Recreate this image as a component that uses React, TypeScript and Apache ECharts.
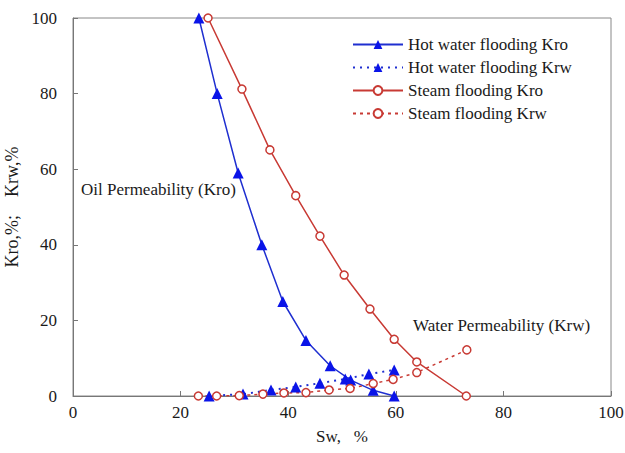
import React, { useEffect, useRef } from "react";
import * as echarts from "echarts";

const hotKroSw = [23.4, 26.8, 30.7, 35.1, 39.0, 43.3, 47.8, 51.6, 55.8, 59.7];
const hotKro = [100, 80, 59, 40, 25, 14.7, 8, 4.2, 1.5, 0];
const hotKrwSw = [25.3, 31.6, 36.8, 41.4, 45.9, 50.6, 55.0, 59.7];
const hotKrw = [0, 0.5, 1.6, 2.4, 3.4, 4.5, 5.8, 6.9];
const steamKroSw = [25.1, 31.4, 36.6, 41.4, 45.9, 50.4, 55.2, 59.7, 63.9, 73.1];
const steamKro = [100, 81.2, 65.1, 53, 42.3, 32, 23, 15, 9, 0];
const steamKrwSw = [23.3, 26.7, 30.9, 35.3, 39.2, 43.3, 47.6, 51.5, 55.8, 59.5, 63.9, 73.2];
const steamKrw = [0, 0, 0.1, 0.5, 0.8, 0.9, 1.6, 2.0, 3.3, 4.4, 6.2, 12.2];
const seriesNames = [
  "Hot water flooding Kro",
  "Hot water flooding Krw",
  "Steam flooding Kro",
  "Steam flooding Krw",
];

const pairs = (xs: number[], ys: number[]) => xs.map((x, i) => [x, ys[i]]);

const FONT = "'Liberation Serif', 'Times New Roman', serif";
const BLUE = "#1f2fd0";
const BLUE_M = "#0a14e8";
const RED = "#c83a34";
const TXT = "#1a1a1a";

export default function App() {
  const ref = useRef<HTMLDivElement>(null);
  useEffect(() => {
    if (!ref.current) return;
    const chart = echarts.init(ref.current, null, { renderer: "svg" });
    const tri = {
      symbol: "triangle",
      symbolSize: 11,
      itemStyle: { color: BLUE_M },
    };
    const circ = {
      symbol: "circle",
      symbolSize: 8,
      itemStyle: { color: "#fff", borderColor: RED, borderWidth: 1.5 },
    };
    chart.setOption({
      animation: false,
      backgroundColor: "#fff",
      textStyle: { fontFamily: FONT, color: TXT },
      grid: {
        left: 73,
        right: 14,
        top: 18,
        bottom: 57,
        outerBoundsMode: "none",
        containLabel: false,
        show: true,
        borderColor: "#888",
        borderWidth: 1,
      },
      legend: {
        orient: "vertical",
        left: 352,
        top: 36,
        padding: 0,
        itemWidth: 50,
        itemHeight: 11,
        itemGap: 6,
        data: seriesNames,
        textStyle: { fontFamily: FONT, fontSize: 17, color: TXT },
      },
      xAxis: {
        type: "value",
        min: 0,
        max: 100,
        interval: 20,
        name: "Sw,   %",
        nameLocation: "middle",
        nameGap: 32,
        nameTextStyle: { fontFamily: FONT, fontSize: 17, color: TXT },
        axisLine: { lineStyle: { color: "#777" } },
        axisTick: { inside: true, length: 5, lineStyle: { color: "#777" } },
        axisLabel: { fontFamily: FONT, fontSize: 17, color: TXT, margin: 8 },
        splitLine: { show: false },
      },
      yAxis: {
        type: "value",
        min: 0,
        max: 100,
        interval: 20,
        name: "Kro,%;    Krw,%",
        nameLocation: "middle",
        nameGap: 42,
        nameTextStyle: { fontFamily: FONT, fontSize: 18, color: TXT },
        axisLine: { show: true, lineStyle: { color: "#777" } },
        axisTick: { show: true, inside: true, length: 5, lineStyle: { color: "#777" } },
        axisLabel: { fontFamily: FONT, fontSize: 17, color: TXT, margin: 16 },
        splitLine: { show: false },
      },
      graphic: [
        {
          type: "text",
          left: 81,
          top: 181,
          style: { text: "Oil Permeability (Kro)", font: "17px 'Liberation Serif'", fill: TXT },
        },
        {
          type: "text",
          left: 413,
          top: 317,
          style: { text: "Water Permeability (Krw)", font: "17px 'Liberation Serif'", fill: TXT },
        },
      ],
      series: [
        {
          name: seriesNames[0],
          type: "line",
          data: pairs(hotKroSw, hotKro),
          lineStyle: { color: BLUE, width: 1.5 },
          ...tri,
        },
        {
          name: seriesNames[1],
          type: "line",
          data: pairs(hotKrwSw, hotKrw),
          lineStyle: { color: BLUE, width: 2, type: [2, 5] },
          ...tri,
        },
        {
          name: seriesNames[2],
          type: "line",
          data: pairs(steamKroSw, steamKro),
          lineStyle: { color: RED, width: 1.5 },
          ...circ,
        },
        {
          name: seriesNames[3],
          type: "line",
          data: pairs(steamKrwSw, steamKrw),
          lineStyle: { color: RED, width: 1.5, type: [3, 4] },
          ...circ,
        },
      ],
    });
    return () => chart.dispose();
  }, []);
  return (
    <div
      ref={ref}
      style={{ position: "absolute", left: 0, top: 0, width: 625, height: 453 }}
    />
  );
}
